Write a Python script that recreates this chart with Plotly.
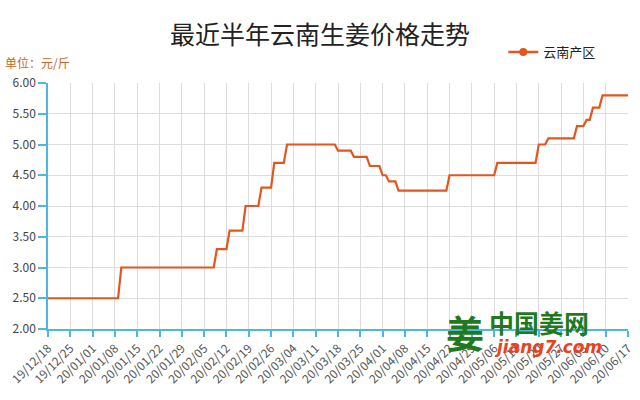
import plotly.graph_objects as go

# Vertices of the price line (date, price in 元/斤)
dates = [
    "2019-12-18", "2020-01-09", "2020-01-10", "2020-02-08", "2020-02-09",
    "2020-02-12", "2020-02-13", "2020-02-17", "2020-02-18", "2020-02-22",
    "2020-02-23", "2020-02-26", "2020-02-27", "2020-03-01", "2020-03-02",
    "2020-03-17", "2020-03-18", "2020-03-22", "2020-03-23", "2020-03-27",
    "2020-03-28", "2020-03-31", "2020-04-01", "2020-04-02", "2020-04-03",
    "2020-04-05", "2020-04-06", "2020-04-21", "2020-04-22", "2020-05-06",
    "2020-05-07", "2020-05-19", "2020-05-20", "2020-05-22", "2020-05-23",
    "2020-05-31", "2020-06-01", "2020-06-03", "2020-06-04", "2020-06-05",
    "2020-06-06", "2020-06-08", "2020-06-09", "2020-06-17",
]
prices = [
    2.50, 2.50, 3.00, 3.00, 3.30,
    3.30, 3.60, 3.60, 4.00, 4.00,
    4.30, 4.30, 4.70, 4.70, 5.00,
    5.00, 4.90, 4.90, 4.80, 4.80,
    4.65, 4.65, 4.50, 4.50, 4.40,
    4.40, 4.25, 4.25, 4.50, 4.50,
    4.70, 4.70, 5.00, 5.00, 5.10,
    5.10, 5.30, 5.30, 5.40, 5.40,
    5.60, 5.60, 5.80, 5.80,
]
tick_labels = [
    "19/12/18", "19/12/25", "20/01/01", "20/01/08", "20/01/15", "20/01/22",
    "20/01/29", "20/02/05", "20/02/12", "20/02/19", "20/02/26", "20/03/04",
    "20/03/11", "20/03/18", "20/03/25", "20/04/01", "20/04/08", "20/04/15",
    "20/04/22", "20/04/29", "20/05/06", "20/05/13", "20/05/20", "20/05/27",
    "20/06/03", "20/06/10", "20/06/17",
]
y_ticks = [2.0, 2.5, 3.0, 3.5, 4.0, 4.5, 5.0, 5.5, 6.0]
series_name = "云南产区"
title_text = "最近半年云南生姜价格走势"
unit_text = "单位：元/斤"

tick_vals = ["20" + t.replace("/", "-") for t in tick_labels]

LINE = "#e2561f"
AXIS = "#4db6e4"
GRID = "#dddddd"
FONT = "Noto Sans CJK SC, Noto Sans, sans-serif"

fig = go.Figure()
fig.add_trace(go.Scatter(
    x=dates, y=prices, mode="lines", name=series_name, showlegend=False,
    line=dict(color=LINE, width=2.2),
))
# legend entry (line with dot), no data drawn
fig.add_trace(go.Scatter(
    x=[None], y=[None], mode="lines+markers", name=series_name, showlegend=True,
    line=dict(color=LINE, width=2.5), marker=dict(color=LINE, size=8),
))

fig.update_layout(
    width=640, height=400,
    margin=dict(l=48, r=12, t=83, b=71),
    paper_bgcolor="white", plot_bgcolor="white",
    font=dict(family=FONT, color="#444", size=12),
    title=dict(text=title_text, x=0.5, xanchor="center", y=0.9125, yanchor="middle",
               font=dict(family=FONT, size=25, color="#222")),
    showlegend=True,
    legend=dict(orientation="h", x=0.785, y=1.126, xanchor="left", yanchor="middle",
                font=dict(family=FONT, size=13, color="#222"),
                bgcolor="rgba(0,0,0,0)", itemwidth=30),
    xaxis=dict(
        type="date", automargin=False,
        range=[tick_vals[0], tick_vals[-1]],
        tickmode="array", tickvals=tick_vals, ticktext=tick_labels,
        tickangle=-45, tickfont=dict(size=12, color="#555"),
        showgrid=True, gridcolor=GRID, gridwidth=1,
        showline=True, linecolor=AXIS, linewidth=1.5,
        ticks="outside", tickcolor=AXIS, ticklen=6, tickwidth=1.5,
        zeroline=False,
    ),
    yaxis=dict(
        range=[2.0, 6.0], automargin=False,
        tickmode="array", tickvals=y_ticks,
        tickformat=".2f", tickfont=dict(size=12, color="#444"),
        showgrid=True, gridcolor=GRID, gridwidth=1,
        showline=True, linecolor=AXIS, linewidth=1.5,
        ticks="outside", tickcolor=AXIS, ticklen=8, tickwidth=1.5,
        zeroline=False,
    ),
)

fig.add_annotation(text=unit_text, xref="paper", yref="paper", x=-0.078, y=1.085,
                   xanchor="left", yanchor="middle", showarrow=False,
                   font=dict(family=FONT, size=12, color="#c0692a"))

# Watermark
fig.add_annotation(text="<b>姜</b>", xref="paper", yref="paper", x=0.719, y=-0.012,
                   xanchor="center", yanchor="middle", showarrow=False,
                   font=dict(family=FONT, size=38, color="#1f7a1f"))
fig.add_annotation(text="<b>中国姜网</b>", xref="paper", yref="paper", x=0.757, y=0.03,
                   xanchor="left", yanchor="middle", showarrow=False,
                   font=dict(family=FONT, size=25, color="#1f7a1f"))
fig.add_annotation(text="<b><i>jiang7.com</i></b>", xref="paper", yref="paper", x=0.766, y=-0.072,
                   xanchor="left", yanchor="middle", showarrow=False,
                   font=dict(family="DejaVu Sans", size=17, color="#e8431c"))

fig.write_html("out.html", config={"displayModeBar": False},
               post_script="document.body.style.margin='0';")
